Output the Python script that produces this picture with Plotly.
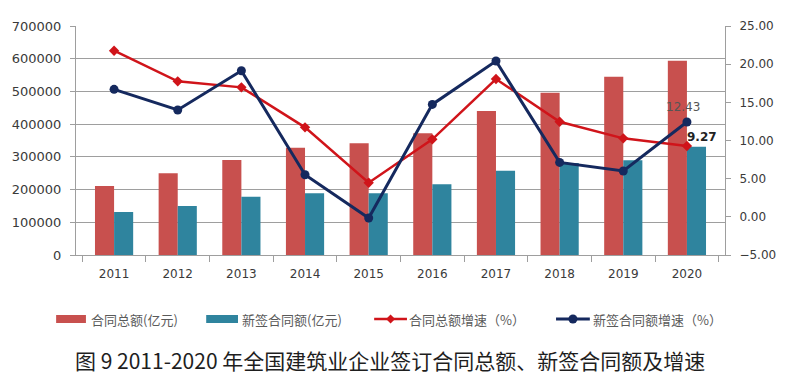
import plotly.graph_objects as go

years = ["2011", "2012", "2013", "2014", "2015", "2016", "2017", "2018", "2019", "2020"]
total_contract = [210900, 249700, 290400, 328000, 341400, 372000, 440000, 496000, 545000, 594000]
new_contract = [131400, 149800, 178200, 188600, 188600, 216000, 257700, 281000, 290000, 331000]
total_growth = [21.76, 17.75, 16.96, 11.72, 4.47, 10.15, 18.05, 12.46, 10.28, 9.27]
new_growth = [16.70, 14.00, 19.14, 5.51, -0.15, 14.73, 20.41, 7.13, 6.00, 12.43]

left_ticks = [0, 100000, 200000, 300000, 400000, 500000, 600000, 700000]
right_ticks = [-5, 0, 5, 10, 15, 20, 25]

names = ["合同总额(亿元)", "新签合同额(亿元)", "合同总额增速（%）", "新签合同额增速（%）"]
title_text = "图 9 2011-2020 年全国建筑业企业签订合同总额、新签合同额及增速"

RED_BAR = "#C8504E"
TEAL_BAR = "#2F849E"
RED_LINE = "#D0141A"
NAVY_LINE = "#15295E"
GRID = "#9E9E9E"
TXT = "#3a3a3a"

fig = go.Figure()
fig.add_trace(go.Bar(x=years, y=total_contract, name=names[0], marker_color=RED_BAR,
                     marker_line_width=0, showlegend=False))
fig.add_trace(go.Bar(x=years, y=new_contract, name=names[1], marker_color=TEAL_BAR,
                     marker_line_width=0, showlegend=False))
fig.add_trace(go.Scatter(x=years, y=total_growth, name=names[2], yaxis="y2", mode="lines+markers",
                         line=dict(color=RED_LINE, width=2.5),
                         marker=dict(symbol="diamond", size=8, color=RED_LINE), showlegend=False))
fig.add_trace(go.Scatter(x=years, y=new_growth, name=names[3], yaxis="y2", mode="lines+markers",
                         line=dict(color=NAVY_LINE, width=3),
                         marker=dict(symbol="circle", size=9, color=NAVY_LINE), showlegend=False))

num_font = dict(family="DejaVu Sans", size=12, color=TXT)

fig.update_layout(
    width=792, height=375,
    margin=dict(l=72, r=67, t=26, b=120),
    paper_bgcolor="white", plot_bgcolor="white",
    barmode="group", bargap=0.4, bargroupgap=0,
    xaxis=dict(type="category", tickson="boundaries", ticks="outside", ticklen=6,
               tickcolor=GRID, showline=True, linecolor=GRID, linewidth=1,
               showgrid=False, tickfont=num_font, ticklabelstandoff=8, tickangle=0),
    yaxis=dict(range=[0, 700000], tickvals=left_ticks, ticktext=[str(v) for v in left_ticks],
               ticks="outside", ticklen=5, tickcolor=GRID, showline=True, linecolor=GRID,
               showgrid=True, gridcolor=GRID, gridwidth=1.2, zeroline=False,
               tickfont=dict(family="DejaVu Sans", size=13, color=TXT), ticklabelstandoff=6),
    yaxis2=dict(range=[-5, 25], tickvals=right_ticks, tickformat=".2f", overlaying="y", side="right",
                ticks="outside", ticklen=5, tickcolor=GRID, showline=True, linecolor=GRID,
                showgrid=False, zeroline=False, tickfont=num_font, ticklabelstandoff=6),
)

# data labels for 2020 growth values (category index of last year)
last = len(years) - 1
fig.add_annotation(x=last, y=new_growth[-1], yref="y2", text=f"{new_growth[-1]:.2f}",
                   showarrow=False, xshift=-4, yshift=15,
                   font=dict(family="DejaVu Sans", size=12, color="#555555"))
fig.add_annotation(x=last, y=total_growth[-1], yref="y2", text=f"<b>{total_growth[-1]:.2f}</b>",
                   showarrow=False, xshift=15, yshift=9,
                   font=dict(family="DejaVu Sans", size=12, color="#222222"))

# manual legend
PX0, PW, PY0, PH = 72, 653, 255, 229
def px(x):
    return (x - PX0) / PW
def py(y):
    return (PY0 - y) / PH

leg_y = 319
leg_font = dict(family="Noto Sans CJK SC", size=13, color="#5a5a5a")
fig.add_shape(type="rect", xref="paper", yref="paper", x0=px(52), x1=px(82), y0=py(323), y1=py(315),
              fillcolor=RED_BAR, line_width=0)
fig.add_shape(type="rect", xref="paper", yref="paper", x0=px(203), x1=px(235), y0=py(323), y1=py(315),
              fillcolor=TEAL_BAR, line_width=0)
fig.add_shape(type="line", xref="paper", yref="paper", x0=px(372), x1=px(405), y0=py(leg_y), y1=py(leg_y),
              line=dict(color=RED_LINE, width=2.5))
fig.add_shape(type="path", xref="paper", yref="paper", xsizemode="pixel", ysizemode="pixel",
              xanchor=px(388.5), yanchor=py(leg_y), path="M0,4.5 L4.5,0 L0,-4.5 L-4.5,0 Z",
              fillcolor=RED_LINE, line_width=0)
fig.add_shape(type="line", xref="paper", yref="paper", x0=px(555), x1=px(589), y0=py(leg_y), y1=py(leg_y),
              line=dict(color=NAVY_LINE, width=3))
fig.add_shape(type="circle", xref="paper", yref="paper", xsizemode="pixel", ysizemode="pixel",
              xanchor=px(572), yanchor=py(leg_y), x0=-4.5, x1=4.5, y0=-4.5, y1=4.5,
              fillcolor=NAVY_LINE, line_width=0)
for xpos, label in zip([85, 237, 405, 590], names):
    fig.add_annotation(xref="paper", yref="paper", x=px(xpos), y=py(leg_y), text=label,
                       showarrow=False, xanchor="left", yanchor="middle", font=leg_font)

fig.add_annotation(xref="paper", yref="paper", x=px(388), y=py(360), text=title_text,
                   showarrow=False, xanchor="center", yanchor="middle",
                   font=dict(family="Noto Sans CJK SC", size=21, color="#1e1e1e"))

fig.write_html("out.html", config={"displayModeBar": False},
               post_script="document.body.style.margin='0';document.body.style.overflow='hidden';")
